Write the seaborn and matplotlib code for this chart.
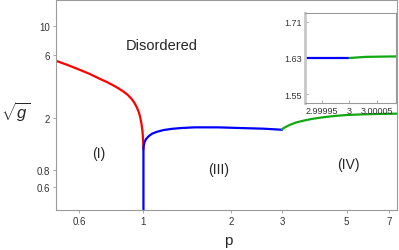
import numpy as np
import pandas as pd
import matplotlib
matplotlib.use('Agg')
import matplotlib.pyplot as plt
import seaborn as sns
from matplotlib.ticker import FixedLocator, FixedFormatter, NullLocator

# phase boundaries
red_p = [0.5, 0.55, 0.6, 0.65, 0.7, 0.75, 0.8, 0.85, 0.88, 0.91, 0.93, 0.95,
         0.965, 0.975, 0.985, 0.992, 0.997, 1.0]
red_g = [5.45, 5.05, 4.68, 4.35, 4.02, 3.75, 3.48, 3.2, 3.02, 2.8, 2.62, 2.4,
         2.2, 2.02, 1.8, 1.6, 1.38, 1.16]

blue_p = [1.0, 1.0, 1.001, 1.004, 1.01, 1.02, 1.04, 1.07, 1.11, 1.17, 1.25, 1.35, 1.5,
          1.8, 2.15, 2.6, 3.0]
blue_g = [0.4, 1.16, 1.21, 1.26, 1.32, 1.38, 1.45, 1.52, 1.57, 1.62, 1.655, 1.68, 1.70,
          1.70, 1.68, 1.66, 1.63]

green_p = [3.0, 3.01, 3.04, 3.1, 3.2, 3.35, 3.55, 3.8, 4.1, 4.5, 5.0, 5.7, 6.5, 7.45]
green_g = [1.63, 1.655, 1.68, 1.72, 1.78, 1.85, 1.91, 1.97, 2.02, 2.07, 2.11, 2.135, 2.15, 2.16]

# zoom around p = 3
inset_blue_p = [2.99992, 3.0]
inset_blue_g = [1.63, 1.63]
inset_green_p = [3.0, 3.00003, 3.000084]
inset_green_g = [1.63, 1.6325, 1.6335]

x_ticks = [0.6, 1, 2, 3, 5, 7]
x_labels = ['0.6', '1', '2', '3', '5', '7']
y_ticks = [0.6, 0.8, 2, 6, 10]
y_labels = ['0.6', '0.8', '2', '6', '10']
inset_x_ticks = [2.99995, 3.0, 3.00005]
inset_x_labels = ['2.99995', '3', '3.00005']
inset_y_ticks = [1.55, 1.63, 1.71]
inset_y_labels = ['1.55', '1.63', '1.71']

sns.set_style('white')
plt.rcParams['font.family'] = ['Liberation Sans', 'DejaVu Sans']
plt.rcParams['mathtext.fontset'] = 'custom'
plt.rcParams['mathtext.it'] = 'Liberation Sans:italic'
plt.rcParams['mathtext.rm'] = 'Liberation Sans'

RED = '#ff0000'
BLUE = '#0000ff'
GREEN = '#12a812'
SPINE = '#9a9a9a'

fig = plt.figure(figsize=(3.99, 2.51), dpi=100)
ax = fig.add_axes([56 / 399, 1 - 211 / 251, 341 / 399, 210 / 251])

for ps, gs, c in [(red_p, red_g, RED), (blue_p, blue_g, BLUE), (green_p, green_g, GREEN)]:
    df = pd.DataFrame({'p': ps, 'g': gs})
    sns.lineplot(data=df, x='p', y='g', sort=False, estimator=None, color=c, lw=1.6, ax=ax)

ax.set_xscale('log')
ax.set_yscale('log')
ax.set_xlim(0.5, 7.46)
ax.set_ylim(0.4, 15.8)
ax.xaxis.set_major_locator(FixedLocator(x_ticks))
ax.xaxis.set_major_formatter(FixedFormatter(x_labels))
ax.yaxis.set_major_locator(FixedLocator(y_ticks))
ax.yaxis.set_major_formatter(FixedFormatter(y_labels))
ax.xaxis.set_minor_locator(NullLocator())
ax.yaxis.set_minor_locator(NullLocator())
ax.tick_params(axis='both', which='major', labelsize=7, length=2.5, width=0.6,
               color=SPINE, direction='out', pad=2, labelcolor='#333333',
               bottom=True, left=True)
for s in ax.spines.values():
    s.set_color(SPINE)
    s.set_linewidth(0.8)

ax.set_xlabel('p', fontsize=11, va='center')
ax.xaxis.set_label_coords(0.504, -0.145)
ax.set_ylabel(r'$\sqrt{g}$', fontsize=12, rotation=0, ha='center', va='center')
ax.yaxis.set_label_coords(-0.12, 0.471)

ax.text(0.31, 0.787, 'Disordered', transform=ax.transAxes, fontsize=10.5, ha='center', va='center')
ax.text(0.126, 0.271, '(I)', transform=ax.transAxes, fontsize=10, ha='center', va='center')
ax.text(0.478, 0.195, '(III)', transform=ax.transAxes, fontsize=10, ha='center', va='center')
ax.text(0.856, 0.219, '(IV)', transform=ax.transAxes, fontsize=10, ha='center', va='center')

# inset
axin = fig.add_axes([305 / 399, 1 - 104 / 251, 91 / 399, 90 / 251])
axin.set_facecolor('white')
for ps, gs, c in [(inset_blue_p, inset_blue_g, BLUE), (inset_green_p, inset_green_g, GREEN)]:
    df = pd.DataFrame({'p': ps, 'g': gs})
    sns.lineplot(data=df, x='p', y='g', sort=False, estimator=None, color=c, lw=1.6, ax=axin)
axin.set_xlim(2.99992, 3.000084)
axin.set_ylim(1.531, 1.729)
axin.xaxis.set_major_locator(FixedLocator(inset_x_ticks))
axin.xaxis.set_major_formatter(FixedFormatter(inset_x_labels))
axin.yaxis.set_major_locator(FixedLocator(inset_y_ticks))
axin.yaxis.set_major_formatter(FixedFormatter(inset_y_labels))
axin.tick_params(axis='both', labelsize=6.5, length=2, width=0.6, color=SPINE,
                 direction='in', pad=2, labelcolor='#333333', bottom=True, left=True)
axin.set_xlabel('')
axin.set_ylabel('')
for s in axin.spines.values():
    s.set_color(SPINE)
    s.set_linewidth(0.8)
axin.spines['left'].set_color('#c8c8c8')
axin.spines['left'].set_linewidth(2)

fig.savefig('out.png', dpi=100)
